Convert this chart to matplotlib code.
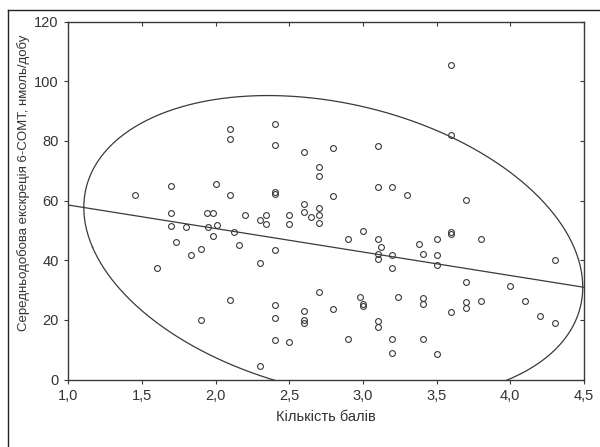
import numpy as np
import matplotlib
matplotlib.use('Agg')
import matplotlib.pyplot as plt
from matplotlib.lines import Line2D
from matplotlib.ticker import FuncFormatter

# Scores (x) and mean daily 6-COMT excretion (y)
score = [1.45, 1.6, 1.7, 1.7, 1.7, 1.73, 1.8, 1.83, 1.9, 1.9,
         1.94, 1.98, 1.95, 2.0, 2.01, 1.98, 2.1, 2.1, 2.1, 2.125,
         2.16, 2.1, 2.2, 2.3, 2.3, 2.3, 2.34, 2.34, 2.4, 2.4,
         2.4, 2.4, 2.4, 2.4, 2.4, 2.4, 2.5, 2.5, 2.5, 2.6,
         2.6, 2.6, 2.6, 2.6, 2.6, 2.65, 2.7, 2.7, 2.7, 2.7,
         2.7, 2.7, 2.8, 2.8, 2.8, 2.9, 2.9, 2.98, 3.0, 3.0,
         3.0, 3.1, 3.1, 3.1, 3.12, 3.1, 3.1, 3.1, 3.1, 3.2,
         3.2, 3.2, 3.2, 3.2, 3.24, 3.3, 3.38, 3.41, 3.41, 3.41,
         3.41, 3.5, 3.5, 3.5, 3.5, 3.6, 3.6, 3.6, 3.6, 3.6,
         3.7, 3.7, 3.7, 3.7, 3.8, 3.8, 4.0, 4.1, 4.2, 4.3,
         4.3]
comt = [62.0, 37.5, 65.0, 56.0, 51.6, 46.2, 51.2, 41.7, 43.7, 20.0,
        56.0, 56.0, 51.0, 65.6, 51.8, 48.0, 84.0, 80.7, 62.0, 49.4,
        45.1, 26.8, 55.3, 53.5, 39.2, 4.6, 55.3, 52.2, 85.6, 78.6,
        62.2, 63.0, 43.4, 25.0, 20.7, 13.3, 55.3, 52.2, 12.5, 76.3,
        58.9, 56.1, 22.9, 20.0, 19.0, 54.4, 71.2, 68.2, 57.6, 55.1,
        52.6, 29.3, 77.7, 61.5, 23.8, 47.0, 13.7, 27.6, 49.9, 25.5,
        24.8, 78.3, 64.4, 47.0, 44.6, 42.1, 40.3, 19.8, 17.8, 64.5,
        41.8, 37.5, 13.5, 9.0, 27.6, 62.0, 45.5, 42.1, 27.4, 25.3,
        13.7, 47.2, 41.8, 38.4, 8.7, 105.3, 82.1, 49.5, 48.8, 22.6,
        60.2, 32.7, 26.1, 24.1, 47.0, 26.4, 31.5, 26.3, 21.5, 40.0,
        18.9]

x_ticks = [1.0, 1.5, 2.0, 2.5, 3.0, 3.5, 4.0, 4.5]
y_ticks = [0, 20, 40, 60, 80, 100, 120]

ink = '#3a3a3a'
txt = '#333333'
# ellipse scale (95% prediction ellipse, ~sqrt of 2*F(2, n-2) * (n-1)/(n-2))
ell_k = 2.5


def comma(v, p):
    return f'{v:.1f}'.replace('.', ',')


def main():
    x = np.array(score)
    y = np.array(comt)

    plt.rcParams['font.family'] = ['Liberation Sans', 'DejaVu Sans']
    fig = plt.figure(figsize=(6.0, 4.47), dpi=100)
    ax = fig.add_axes([0.1138, 0.1506, 0.8595, 0.8013])

    # points
    ax.plot(x, y, 'o', ms=4.2, mfc='none', mec=ink, mew=0.8)

    # linear fit
    slope, intercept = np.polyfit(x, y, 1)
    xl = np.array([1.0, 4.5])
    ax.plot(xl, intercept + slope * xl, color=ink, lw=0.9)

    # normal ellipse around the points
    cov = np.cov(x, y)
    vals, vecs = np.linalg.eigh(cov)
    t = np.linspace(0, 2 * np.pi, 500)
    circ = np.vstack([np.cos(t), np.sin(t)])
    pts = vecs @ (np.sqrt(vals)[:, None] * circ) * ell_k
    ax.plot(x.mean() + pts[0], y.mean() + pts[1], color=ink, lw=0.9)

    ax.set_xlim(1.0, 4.5)
    ax.set_ylim(0, 120)
    ax.set_xticks(x_ticks)
    ax.set_yticks(y_ticks)
    ax.xaxis.set_major_formatter(FuncFormatter(comma))
    ax.tick_params(direction='out', length=3, width=0.8, color=ink,
                   labelsize=10.5, labelcolor=txt, pad=4)
    for s in ax.spines.values():
        s.set_color(ink)
        s.set_linewidth(1.0)

    # mirrored inner ticks on top and right
    top = ax.secondary_xaxis('top')
    top.set_xticks(x_ticks)
    top.tick_params(direction='in', length=3, width=0.8, color=ink, labeltop=False)
    right = ax.secondary_yaxis('right')
    right.set_yticks(y_ticks)
    right.tick_params(direction='in', length=3, width=0.8, color=ink, labelright=False)
    for sec in (top, right):
        for s in sec.spines.values():
            s.set_visible(False)

    ax.set_xlabel('Кількість балів', fontsize=10.5, color=txt, labelpad=5)
    ax.set_ylabel('Середньодобова екскреція 6-COMT, нмоль/добу', fontsize=9.5,
                  color=txt)
    ax.yaxis.set_label_coords(-0.074, 0.55)

    # outer frame (left and top edges)
    fig.add_artist(Line2D([7.5 / 600, 7.5 / 600], [0, 1 - 10 / 447],
                          transform=fig.transFigure, color='#222222', lw=1.0))
    fig.add_artist(Line2D([7.5 / 600, 1], [1 - 10 / 447, 1 - 10 / 447],
                          transform=fig.transFigure, color='#222222', lw=1.0))

    fig.savefig('out.png', dpi=100)
    plt.close(fig)


if __name__ == "__main__":
    main()
